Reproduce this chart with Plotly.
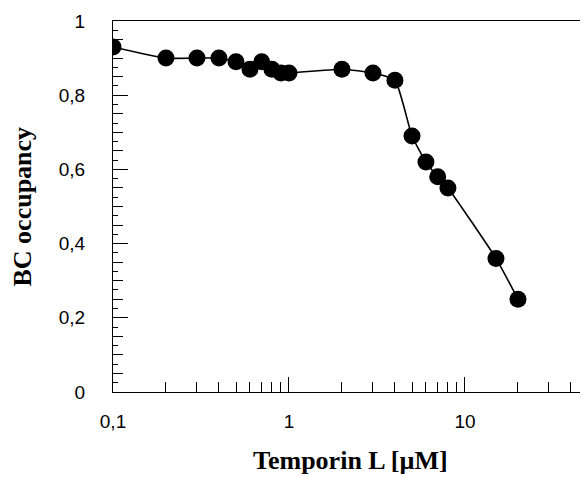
import plotly.graph_objects as go
import numpy as np

# Data
conc_uM = [0.1, 0.2, 0.3, 0.4, 0.5, 0.6, 0.7, 0.8, 0.9, 1, 2, 3, 4, 5, 6, 7, 8, 15, 20]
bc_occupancy = [0.93, 0.90, 0.90, 0.90, 0.89, 0.87, 0.89, 0.87, 0.86, 0.86,
                0.87, 0.86, 0.84, 0.69, 0.62, 0.58, 0.55, 0.36, 0.25]

x_tick_vals = [0.1, 1, 10]
x_tick_text = ["0,1", "1", "10"]
x_minor_vals = [0.2, 0.3, 0.4, 0.5, 0.6, 0.7, 0.8, 0.9,
                2, 3, 4, 5, 6, 7, 8, 9, 20, 30, 40, 50]
y_tick_vals = [0, 0.2, 0.4, 0.6, 0.8, 1]
y_tick_text = ["0", "0,2", "0,4", "0,6", "0,8", "1"]

# page body has an 8px margin, so the figure is offset by 8px
OFF = 8
W, H = 588 - OFF, 477 - OFF
L, R, T = 113 - OFF, 0, 21 - OFF
B = H - (392 - OFF)
PLOT_W = W - L - R
PLOT_H = H - T - B

fig = go.Figure()
fig.add_trace(go.Scatter(
    x=conc_uM, y=bc_occupancy, mode="lines+markers",
    line=dict(color="black", width=1.6, shape="spline", smoothing=0.5),
    marker=dict(color="black", size=17),
    showlegend=False,
))
# invisible helper trace so the overlay tick axis is rendered
fig.add_trace(go.Scatter(x=[conc_uM[0]], y=[bc_occupancy[0]], yaxis="y2",
                         mode="markers", marker=dict(opacity=0), showlegend=False,
                         hoverinfo="skip"))

tickfont = dict(family="Liberation Sans, Arial, sans-serif", size=19, color="black")
titlefont = dict(family="Liberation Serif, Times New Roman, serif", size=26, color="black")

fig.update_layout(
    width=W, height=H,
    margin=dict(l=L, r=R, t=T, b=B),
    paper_bgcolor="white", plot_bgcolor="white",
    xaxis=dict(
        type="log", range=[-1, np.log10(50)],
        showline=True, linecolor="black", linewidth=1.3, mirror=True,
        showgrid=False, zeroline=False,
        ticks="inside", ticklen=15, tickwidth=1.2, tickcolor="black",
        tickvals=x_tick_vals, ticktext=x_tick_text,
        tickfont=tickfont, ticklabelstandoff=12,
        minor=dict(ticks="inside", ticklen=10, tickwidth=1.2, tickcolor="black",
                   tickvals=x_minor_vals, showgrid=False),
    ),
    yaxis=dict(
        range=[0, 1],
        showline=True, linecolor="black", linewidth=1.3, mirror=False,
        showgrid=False, zeroline=False,
        ticks="inside", ticklen=15, tickwidth=1.2, tickcolor="black",
        tickvals=y_tick_vals, ticktext=y_tick_text,
        tickfont=tickfont, ticklabelstandoff=23,
        minor=dict(ticks="inside", ticklen=10, tickwidth=1.2, tickcolor="black",
                   dtick=0.05, showgrid=False),
    ),
    yaxis2=dict(
        overlaying="y", side="left", range=[0, 1],
        showline=False, showgrid=False, zeroline=False,
        ticks="inside", ticklen=5, tickwidth=1.2, tickcolor="black",
        dtick=0.025, showticklabels=False,
    ),
    annotations=[
        dict(text="<b>Temporin L [µM]</b>", xref="paper", yref="paper",
             x=0.5, y=(392 - 460) / PLOT_H, xanchor="center", yanchor="middle",
             showarrow=False, font=titlefont),
        dict(text="<b>BC occupancy</b>", xref="paper", yref="paper",
             x=(22 - 113) / PLOT_W, y=0.5, xanchor="center", yanchor="middle",
             textangle=-90, showarrow=False, font=titlefont),
    ],
)

fig.write_html("out.html")
